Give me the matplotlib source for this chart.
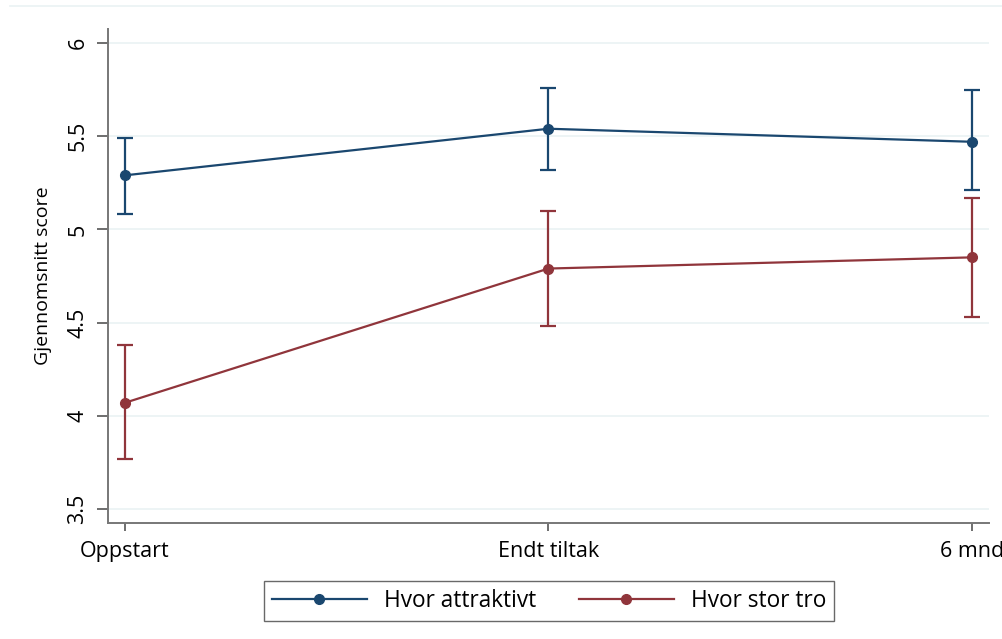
import matplotlib.pyplot as plt
from matplotlib.lines import Line2D
import numpy as np

# Data
tidspunkt = ['Oppstart', 'Endt tiltak', '6 mnd']
attraktivt = [5.29, 5.54, 5.47]
attraktivt_lo = [5.08, 5.32, 5.21]
attraktivt_hi = [5.49, 5.76, 5.75]
tro = [4.07, 4.79, 4.85]
tro_lo = [3.77, 4.48, 4.53]
tro_hi = [4.38, 5.10, 5.17]

blue = '#1a476f'
red = '#90353b'

plt.rcParams['font.family'] = ['Open Sans', 'DejaVu Sans']

fig = plt.figure(figsize=(10.03, 6.39), dpi=100)
ax = fig.add_axes([108 / 1003, 1 - 523 / 639, (989 - 108) / 1003, (523 - 29) / 639])

x = np.arange(len(tidspunkt))

def plot_series(y, lo, hi, color):
    y = np.array(y)
    yerr = [y - np.array(lo), np.array(hi) - y]
    ax.errorbar(x, y, yerr=yerr, color=color, lw=1.6, marker='o', ms=7,
                capsize=6, capthick=1.6, elinewidth=1.6, zorder=3)

plot_series(attraktivt, attraktivt_lo, attraktivt_hi, blue)
plot_series(tro, tro_lo, tro_hi, red)

ax.set_xlim(-0.04, 2.04)
ax.set_ylim(3.425, 6.075)
ax.set_yticks([3.5, 4, 4.5, 5, 5.5, 6])
ax.set_yticklabels(['3.5', '4', '4.5', '5', '5.5', '6'], rotation=90, va='center')
ax.set_xticks(x)
ax.set_xticklabels(tidspunkt)
ax.tick_params(axis='both', labelsize=15.5, color='#555555', length=8, width=1.2)
ax.tick_params(axis='y', pad=6)
ax.tick_params(axis='x', length=6, pad=7)
ax.grid(axis='y', color='#eaf2f3', lw=1.2)
ax.set_axisbelow(True)
for s in ['top', 'right']:
    ax.spines[s].set_visible(False)
for s in ['left', 'bottom']:
    ax.spines[s].set_color('#777777')
    ax.spines[s].set_linewidth(1.4)

ax.set_ylabel('Gjennomsnitt score', fontsize=14, labelpad=11)

# faint border line at the top
fig.add_artist(Line2D([10 / 1003, 1], [1 - 6 / 639, 1 - 6 / 639],
                      color='#eaf2f3', lw=1.2))

handles = [Line2D([], [], color=blue, lw=1.6, marker='o', ms=7),
           Line2D([], [], color=red, lw=1.6, marker='o', ms=7)]
fig.legend(handles, ['Hvor attraktivt', 'Hvor stor tro'], loc='center',
           bbox_to_anchor=(549 / 1003, 1 - 601 / 639), ncol=2,
           fontsize=16.3, frameon=True, fancybox=False, edgecolor='#444444',
           handlelength=4.2, columnspacing=1.9, borderpad=0.35,
           handletextpad=0.75, borderaxespad=0)

fig.savefig('out.png', dpi=100)
